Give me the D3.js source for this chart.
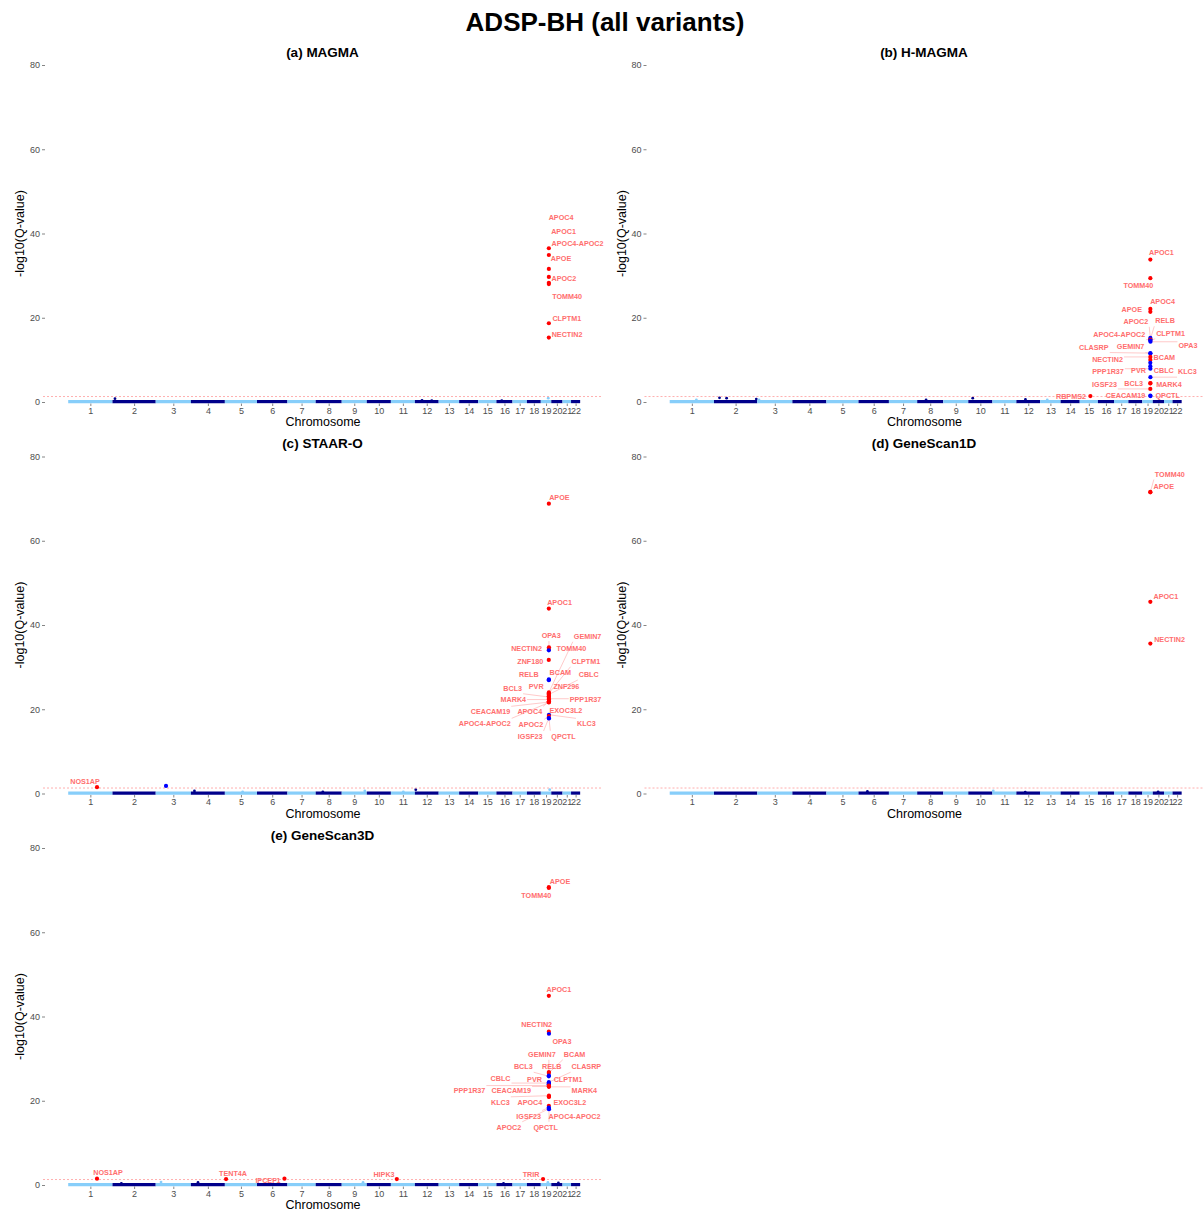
<!DOCTYPE html>
<html><head><meta charset="utf-8">
<script src="https://cdn.jsdelivr.net/npm/d3@7"></script>
<style>
body{margin:0;background:#fff}
svg{display:block}
text{font-family:"Liberation Sans",Arial,sans-serif}
</style>
</head><body>
<svg id="chart" width="1204" height="1215"></svg>
<script>
// ---------------- DATA ----------------
const mainTitle = "ADSP-BH (all variants)";
const chromosomes = ["1","2","3","4","5","6","7","8","9","10","11","12","13","14","15","16","17","18","19","20","21","22"];
const chromLengthsMb = [249.25,243.20,198.02,191.15,180.92,171.12,159.14,146.36,141.21,135.53,135.01,133.85,115.17,107.35,102.53,90.35,81.20,78.08,59.13,63.03,48.13,51.30];
const yTicks = [0,20,40,60,80];
const qThreshold = 0.05;

// gene table (chromosome, position in Mb)
const geneNames = ["TOMM40","APOE","APOC1","APOC4","APOC2","APOC4-APOC2","NECTIN2","CLPTM1","BCAM","PVR","CBLC","BCL3","RELB","CEACAM19","EXOC3L2","MARK4","KLC3","PPP1R37","GEMIN7","ZNF296","OPA3","QPCTL","IGSF23","CLASRP","ZNF180","NOS1AP","TENT4A","IPCEF1","HIPK3","TRIR","RBPMS2"];
const geneChr = [19,19,19,19,19,19,19,19,19,19,19,19,19,19,19,19,19,19,19,19,19,19,19,19,19,1,5,6,11,19,15];
const genePosMb = [45.39,45.41,45.42,45.45,45.45,45.45,45.35,45.46,45.31,45.15,45.28,45.25,45.50,45.17,45.72,45.75,45.84,45.60,45.59,45.57,46.03,46.19,45.12,45.54,44.98,162.1,6.7,154.5,33.3,12.8,60.0];

const panelTitles = ["(a) MAGMA","(b) H-MAGMA","(c) STAAR-O","(d) GeneScan1D","(e) GeneScan3D"];

// (a) MAGMA
const magmaGenes = ["APOC4","APOC1","APOC4-APOC2","APOE","APOC2","TOMM40","CLPTM1","NECTIN2"];
const magmaValues = [36.5,34.9,31.6,29.7,28.3,28.0,18.7,15.3];
const magmaGroups = ["A","A","A","A","A","A","A","A"];
const magmaMinor = [[2,14,0.8],[12,40,0.4],[19,42,0.9],[12,95,0.35],[16,30,0.3]];

// (b) H-MAGMA
const hmagmaGenes = ["APOC1","TOMM40","APOC4","APOE","APOC2","RELB","APOC4-APOC2","CLPTM1","OPA3","CLASRP","GEMIN7","NECTIN2","BCAM","PVR","CBLC","PPP1R37","KLC3","MARK4","BCL3","IGSF23","CEACAM19","QPCTL","RBPMS2"];
const hmagmaValues = [33.8,29.4,22.1,21.4,15.2,14.9,14.8,14.6,14.3,11.6,11.5,10.7,10.0,9.3,8.5,7.9,5.9,4.5,4.4,3.1,1.5,1.4,1.4];
const hmagmaGroups = ["A","A","A","A","B","B","A","B","B","B","B","A","A","B","B","B","B","A","A","A","B","B","A"];
const hmagmaMinor = [[1,150,0.5],[2,31,1.0],[2,71,0.9],[2,238,0.7],[3,10,0.5],[8,50,0.5],[10,25,0.9],[12,51,0.6],[13,40,0.5]];

// (c) STAAR-O
const staarGenes = ["APOE","APOC1","OPA3","NECTIN2","TOMM40","ZNF180","RELB","BCAM","GEMIN7","CLPTM1","CBLC","ZNF296","PVR","BCL3","PPP1R37","MARK4","EXOC3L2","APOC4","CEACAM19","APOC4-APOC2","KLC3","APOC2","IGSF23","QPCTL","NOS1AP"];
const staarValues = [68.8,43.9,34.7,34.3,34.0,31.7,27.1,26.9,24.0,23.8,23.5,23.2,23.0,22.9,22.5,22.3,21.9,21.8,21.7,21.6,18.7,18.4,17.9,17.8,1.5];
const staarGroups = ["A","A","A","A","B","A","B","B","A","A","A","A","A","A","A","A","A","A","A","A","B","A","B","B","A"];
const staarUnlabeled = [[3,58,1.8,"B"]];
const staarMinor = [[4,20,0.6],[9,130,0.6],[12,5,0.9],[19,50,0.9],[5,100,0.4],[11,70,0.4],[8,40,0.4]];

// (d) GeneScan1D
const gs1dGenes = ["TOMM40","APOE","APOC1","NECTIN2"];
const gs1dValues = [71.5,71.6,45.5,35.6];
const gs1dGroups = ["A","A","A","A"];
const gs1dMinor = [[6,50,0.5],[11,5,0.6],[20,30,0.4],[12,50,0.3]];

// (e) GeneScan3D
const gs3dGenes = ["APOE","TOMM40","APOC1","NECTIN2","OPA3","GEMIN7","BCAM","RELB","BCL3","CLASRP","CBLC","PVR","CLPTM1","PPP1R37","CEACAM19","MARK4","KLC3","APOC4","EXOC3L2","APOC4-APOC2","IGSF23","APOC2","QPCTL","NOS1AP","TENT4A","IPCEF1","HIPK3","TRIR"];
const gs3dValues = [70.7,70.5,44.9,36.4,35.9,26.8,26.6,26.0,25.8,24.4,24.2,24.0,23.9,23.6,23.4,23.3,21.2,21.0,20.9,18.8,18.4,18.1,18.0,1.5,1.4,1.5,1.4,1.4];
const gs3dGroups = ["A","A","A","A","B","A","A","B","B","B","B","B","B","A","A","A","A","A","A","A","B","B","B","A","A","A","A","A"];
const gs3dMinor = [[2,50,0.4],[3,30,0.7],[4,40,0.6],[9,120,0.6],[16,40,0.4],[20,40,0.5],[19,40,0.6]];

// ---------------- LAYOUT (label placement from repel, px offsets from point; 3rd = draw segment) ----------------
const repelLayout = {
  a: {"APOC4":[12.2,-30.5],"APOC1":[14.7,-24],"APOC4-APOC2":[28.7,-25.9],"APOE":[12.2,-18.9],"APOC2":[15,-4.1],"TOMM40":[18.2,12.6],"CLPTM1":[17.9,-4.5],"NECTIN2":[18.2,-2.8]},
  b: {"APOC1":[11,-6.9],"TOMM40":[-12,7.5],"APOC4":[12.2,-7.9],"APOE":[-18.6,-2.5],"APOC2":[-14.5,-16.7,1],"RELB":[14.7,-18.5,1],
      "APOC4-APOC2":[-31.1,-5.4,1],"CLPTM1":[20.2,-7.2,1],"OPA3":[37.5,4.2,1],"CLASRP":[-56.6,-6.1,1],"GEMIN7":[-19.8,-6.6,1],
      "NECTIN2":[-42.8,2.1,1],"BCAM":[14,-1.9],"PVR":[-11.8,7.2],"CBLC":[13.5,3.8],"PPP1R37":[-42.3,3,1],"KLC3":[37,-5.4,1],
      "MARK4":[18.5,1],"BCL3":[-16.6,0.5],"IGSF23":[-45.8,-4.9,1],"CEACAM19":[-24.8,0],"QPCTL":[17.2,-0.4],"RBPMS2":[-19.4,0]},
  c: {"APOE":[10.5,-6.5],"APOC1":[10.7,-6.4],"OPA3":[2.2,-11.8,1],"NECTIN2":[-22.3,-0.5],"TOMM40":[22.5,-1.8],"ZNF180":[-18.5,1.2],
      "RELB":[-20,-4.8],"BCAM":[11.5,-7.4],"GEMIN7":[38.7,-56.2,1],"CLPTM1":[37,-32,1],"CBLC":[39.9,-20,1],"ZNF296":[17.5,-9],
      "PVR":[-12.6,-9.8],"BCL3":[-36.1,-8.8,1],"PPP1R37":[36.7,0.8,1],"MARK4":[-35.6,-0.1,1],"EXOC3L2":[17,9.3],"APOC4":[-19.1,10.1,1],
      "CEACAM19":[-58.3,9.7,1],"APOC4-APOC2":[-64.1,21.3,1],"KLC3":[37.4,9.1,1],"APOC2":[-18,8.8,1],"IGSF23":[-18.6,18.4,1],
      "QPCTL":[14.5,17.7,1],"NOS1AP":[-12,-5.7]},
  d: {"APOE":[13.4,-5.1],"TOMM40":[19.4,-18.3,1],"APOC1":[15.5,-5],"NECTIN2":[19.2,-4]},
  e: {"APOE":[11.2,-5.5],"TOMM40":[-12.6,7],"APOC1":[10,-6.6],"NECTIN2":[-12.1,-6.7],"OPA3":[13,7.9],"GEMIN7":[-7,-17.8,1],
      "BCAM":[25.7,-18.7,1],"RELB":[2.9,-8.8],"BCL3":[-25.5,-9.6,1],"CLASRP":[37.5,-15.5,1],"CBLC":[-48.3,-4.1,1],"PVR":[-14.3,-4.9],
      "CLPTM1":[19.2,-5.3],"PPP1R37":[-79.3,4.4,1],"CEACAM19":[-37.5,3.6,1],"MARK4":[35.4,3.2,1],"KLC3":[-48.5,6.6,1],
      "APOC4":[-19,5.8],"EXOC3L2":[20.9,5.3],"APOC4-APOC2":[25.7,10.9,1],"IGSF23":[-20.1,8.5,1],"APOC2":[-40,18.5,1],
      "QPCTL":[-3.3,18.1,1],"NOS1AP":[11,-6.7],"TENT4A":[7,-6],"IPCEF1":[-16.5,1.3],"HIPK3":[-12.8,-5],"TRIR":[-12,-5]}
};

const panels = [
  {key:"a", title:panelTitles[0], genes:magmaGenes, values:magmaValues, groups:magmaGroups, extra:[], minor:magmaMinor, col:0, row:0},
  {key:"b", title:panelTitles[1], genes:hmagmaGenes, values:hmagmaValues, groups:hmagmaGroups, extra:[], minor:hmagmaMinor, col:1, row:0},
  {key:"c", title:panelTitles[2], genes:staarGenes, values:staarValues, groups:staarGroups, extra:staarUnlabeled, minor:staarMinor, col:0, row:1},
  {key:"d", title:panelTitles[3], genes:gs1dGenes, values:gs1dValues, groups:gs1dGroups, extra:[], minor:gs1dMinor, col:1, row:1},
  {key:"e", title:panelTitles[4], genes:gs3dGenes, values:gs3dValues, groups:gs3dGroups, extra:[], minor:gs3dMinor, col:0, row:2}
];

// ---------------- STYLE ----------------
const groupColor = {A:"#FF0000", B:"#0000FF"};
const bandColors = ["#87CEFA","#00008B"];
const labelColor = "#FF6E6E";
const segColor = "#FFB3B3";
const tickColor = "#4D4D4D";
const colW = 601.5, rowH = 391.5;

// ---------------- DRAW ----------------
const svg = d3.select("#chart");
svg.append("rect").attr("width",1204).attr("height",1215).attr("fill","#fff");

svg.append("text").attr("x",605).attr("y",22).attr("dy","0.35em")
  .attr("text-anchor","middle").attr("font-size",26).attr("font-weight","bold").text(mainTitle);

const chromStart = [];
chromLengthsMb.reduce((acc,l,i)=>{chromStart[i]=acc; return acc+l;},0);
const totalMb = d3.sum(chromLengthsMb);
const chromMid = chromLengthsMb.map((l,i)=>chromStart[i]+l/2);
const geneIndex = new Map(geneNames.map((g,i)=>[g,i]));
const cumPos = (chr,pos)=>chromStart[chr-1]+pos;

panels.forEach(p=>{
  const gx = p.col*colW, gy = p.row*rowH;
  const g = svg.append("g");
  const x = d3.scaleLinear().domain([0,totalMb]).range([gx+68.2, gx+68.2+totalMb*0.1777]);
  const y = d3.scaleLinear().domain([0,80]).range([gy+402, gy+65]);

  // title
  g.append("text").attr("x",gx+322.5).attr("y",gy+52).attr("dy","0.35em").attr("text-anchor","middle")
    .attr("font-size",13.5).attr("font-weight","bold").text(p.title);

  // y axis
  const ya = g.append("g").attr("transform",`translate(${gx+45},0)`)
    .call(d3.axisLeft(y).tickValues(yTicks).tickSize(3).tickPadding(2));
  ya.select(".domain").remove();
  ya.selectAll(".tick line").attr("stroke","#333").attr("stroke-width",0.6);
  ya.selectAll(".tick text").attr("fill",tickColor).attr("font-size",9).attr("font-family","Liberation Sans, Arial, sans-serif");

  g.append("text").attr("transform",`translate(${gx+20},${gy+233.5}) rotate(-90)`).attr("dy","0.35em")
    .attr("text-anchor","middle").attr("font-size",12.5).text("-log10(Q-value)");

  // x axis
  const xa = g.append("g").attr("transform",`translate(0,${gy+403.5})`)
    .call(d3.axisBottom(x).tickValues(chromMid).tickFormat((d,i)=>chromosomes[i]).tickSize(2.5).tickPadding(1.5));
  xa.select(".domain").remove();
  xa.selectAll(".tick line").attr("stroke","#333").attr("stroke-width",0.6);
  xa.selectAll(".tick text").attr("fill",tickColor).attr("font-size",9).attr("font-family","Liberation Sans, Arial, sans-serif");

  g.append("text").attr("x",gx+323).attr("y",gy+422).attr("dy","0.35em").attr("text-anchor","middle")
    .attr("font-size",12.5).text("Chromosome");

  // baseline bands: the dense mass of near-zero genes per chromosome
  g.selectAll(".band").data(chromLengthsMb).enter().append("line")
    .attr("x1",(d,i)=>x(chromStart[i])).attr("x2",(d,i)=>x(chromStart[i]+d))
    .attr("y1",y(0.1)).attr("y2",y(0.1))
    .attr("stroke",(d,i)=>bandColors[i%2]).attr("stroke-width",3.2);

  // minor near-baseline points
  g.selectAll(".minor").data(p.minor).enter().append("circle")
    .attr("cx",d=>x(cumPos(d[0],d[1]))).attr("cy",d=>y(d[2])).attr("r",1.4)
    .attr("fill",d=>bandColors[(d[0]-1)%2]);

  // threshold line
  const thr = -Math.log10(qThreshold);
  g.append("line").attr("x1",gx+43).attr("x2",Math.min(gx+602,1204)).attr("y1",y(thr)).attr("y2",y(thr))
    .attr("stroke","#FF9A9A").attr("stroke-width",0.8).attr("stroke-dasharray","2,2");

  // unlabeled hits
  g.selectAll(".extra").data(p.extra).enter().append("circle")
    .attr("cx",d=>x(cumPos(d[0],d[1]))).attr("cy",d=>y(d[2])).attr("r",2.1).attr("fill",d=>groupColor[d[3]]);

  const rows = p.genes.map((gene,i)=>{
    const gi = geneIndex.get(gene);
    return {gene, v:p.values[i], grp:p.groups[i], px:x(cumPos(geneChr[gi],genePosMb[gi])), py:y(p.values[i])};
  });

  const segLayer = g.append("g");
  // points
  g.selectAll(".pt").data(rows).enter().append("circle")
    .attr("cx",d=>d.px).attr("cy",d=>d.py).attr("r",2.1).attr("fill",d=>groupColor[d.grp]);

  // labels
  const lay = repelLayout[p.key];
  rows.forEach(d=>{
    const o = lay[d.gene]; if(!o) return;
    const t = g.append("text").attr("x",d.px+o[0]).attr("y",d.py+o[1]).attr("dy","0.35em")
      .attr("text-anchor","middle").attr("font-size",7.2).attr("font-weight","bold")
      .attr("fill",labelColor).text(d.gene);
    if(o[2]){
      const bb = t.node().getBBox();
      const pad = 1;
      const bx = Math.max(bb.x-pad, Math.min(d.px, bb.x+bb.width+pad));
      const by = Math.max(bb.y-pad, Math.min(d.py, bb.y+bb.height+pad));
      segLayer.append("line").attr("x1",d.px).attr("y1",d.py).attr("x2",bx).attr("y2",by)
        .attr("stroke",segColor).attr("stroke-width",0.7);
    }
  });
});
</script>
</body></html>
